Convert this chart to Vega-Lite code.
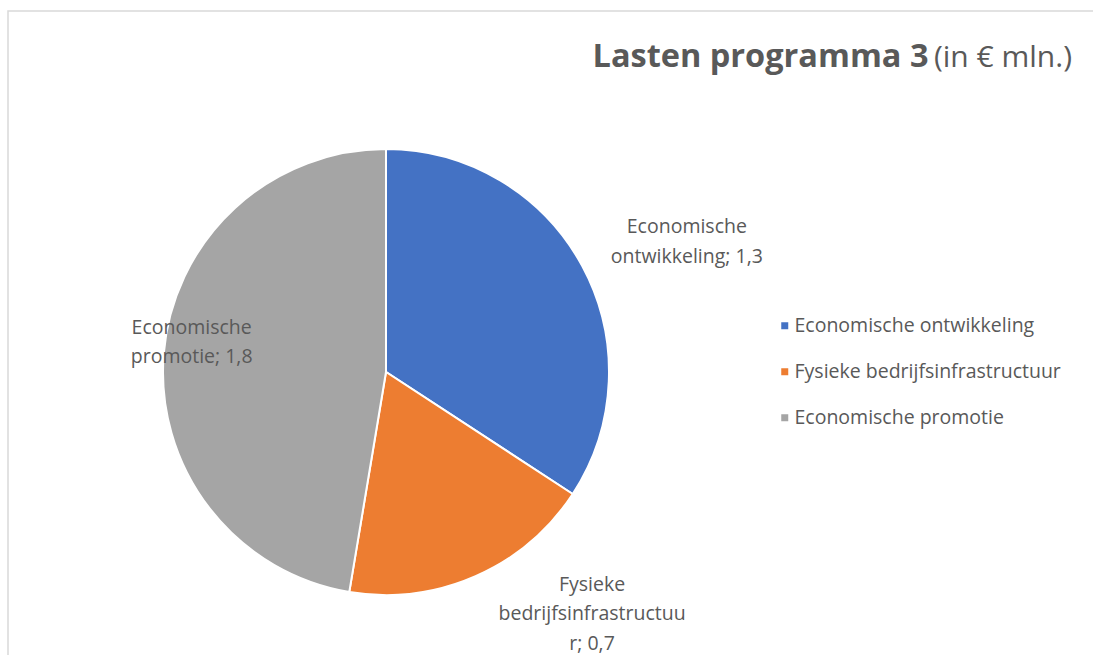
{
  "$schema": "https://vega.github.io/schema/vega-lite/v6.json",
  "width": 1100,
  "height": 722,
  "autosize": {"type": "none"},
  "padding": {"left": 8, "top": 11, "right": 0, "bottom": 0},
  "background": "white",
  "view": {"stroke": "#d9d9d9", "strokeWidth": 1.5, "fill": "white"},
  "config": {
    "view": {"stroke": "#d9d9d9", "strokeWidth": 1.5},
    "font": "Open Sans"
  },
  "title": {
    "text": "Lasten programma 3\u00a0\u00a0\u00a0\u00a0\u00a0\u00a0\u00a0\u00a0\u00a0\u00a0\u00a0\u00a0\u00a0\u00a0\u00a0\u00a0\u00a0\u2060",
    "subtitle": "(in € mln.)",
    "anchor": "end",
    "frame": "bounds",
    "dx": -36,
    "offset": -62,
    "font": "Open Sans",
    "fontSize": 32.5,
    "fontWeight": "bold",
    "color": "#595959",
    "subtitleFont": "Open Sans",
    "subtitleFontSize": 30,
    "subtitleFontWeight": "normal",
    "subtitleColor": "#595959",
    "subtitlePadding": -30.5
  },
  "data": {
    "values": [
      {"categorie": "Economische ontwikkeling", "waarde": 1.3, "label": "Economische\nontwikkeling; 1,3", "volgorde": 1},
      {"categorie": "Fysieke bedrijfsinfrastructuur", "waarde": 0.7, "label": "Fysieke\nbedrijfsinfrastructuu\nr; 0,7", "volgorde": 2},
      {"categorie": "Economische promotie", "waarde": 1.8, "label": "Economische\npromotie; 1,8", "volgorde": 3}
    ]
  },
  "encoding": {
    "theta": {"field": "waarde", "type": "quantitative", "stack": true},
    "order": {"field": "volgorde", "type": "quantitative"}
  },
  "layer": [
    {
      "mark": {"type": "arc", "radius": 223, "stroke": "white", "strokeWidth": 2, "xOffset": -172},
      "encoding": {
        "color": {
          "field": "categorie",
          "type": "nominal",
          "sort": ["Economische ontwikkeling", "Fysieke bedrijfsinfrastructuur", "Economische promotie"],
          "scale": {
            "domain": ["Economische ontwikkeling", "Fysieke bedrijfsinfrastructuur", "Economische promotie"],
            "range": ["#4472C4", "#ED7D31", "#A5A5A5"]
          },
          "legend": {
            "orient": "none",
            "legendX": 767,
            "legendY": 305,
            "title": null,
            "padding": 0,
            "symbolType": "square",
            "symbolSize": 49,
            "symbolStrokeWidth": 0,
            "labelFont": "Open Sans",
            "labelFontSize": 19.5,
            "labelColor": "#595959",
            "labelOffset": 0,
            "labelLimit": 500,
            "rowPadding": 25
          }
        }
      }
    },
    {
      "mark": {"type": "text", "radius": 300, "xOffset": -172, "dx": 37, "dy": -2, "lineBreak": "\n", "lineHeight": 30, "fontSize": 19.5, "font": "Open Sans", "color": "#595959", "align": "center", "baseline": "middle"},
      "encoding": {
        "text": {"condition": {"test": "datum.volgorde == 1", "field": "label"}, "value": ""}
      }
    },
    {
      "mark": {"type": "text", "radius": 264, "xOffset": -172, "dx": 100, "dy": -29, "lineBreak": "\n", "lineHeight": 29.5, "fontSize": 19.5, "font": "Open Sans", "color": "#595959", "align": "center", "baseline": "middle"},
      "encoding": {
        "text": {"condition": {"test": "datum.volgorde == 2", "field": "label"}, "value": ""}
      }
    },
    {
      "mark": {"type": "text", "radius": 195, "xOffset": -172, "dx": 0, "dy": -28, "lineBreak": "\n", "lineHeight": 29, "fontSize": 19.5, "font": "Open Sans", "color": "#595959", "align": "center", "baseline": "middle"},
      "encoding": {
        "text": {"condition": {"test": "datum.volgorde == 3", "field": "label"}, "value": ""}
      }
    }
  ]
}
